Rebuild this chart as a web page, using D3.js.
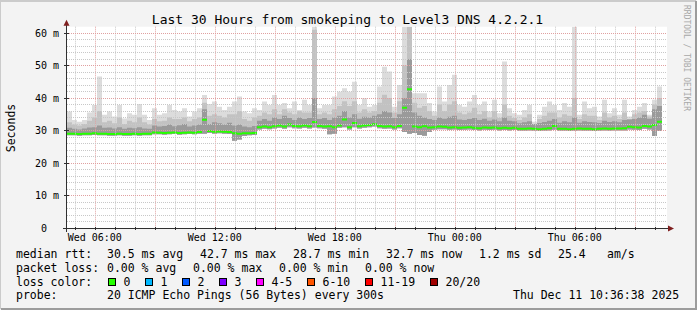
<!DOCTYPE html>
<html>
<head>
<meta charset="utf-8">
<script src="https://cdn.jsdelivr.net/npm/d3@7"></script>
<style>
  body { margin: 0; background: #f3f3f3; }
  svg { display: block; }
  text { font-family: "DejaVu Sans Mono", monospace; fill: #000; }
</style>
</head>
<body>
<svg id="chart" width="697" height="310"></svg>
<script>
// --- data (15 minute steps) ---
const endTime = new Date(2025, 11, 11, 10, 36, 38)
const spanHours = 30
const stepMinutes = 15

const medianRtt = [
  29.0, 29.0, 28.9, 29.0, 29.0, 29.1, 29.0, 29.0, 28.9, 28.9,
  29.0, 28.9, 28.9, 29.0, 28.9, 29.0, 29.0, 29.4, 29.3, 29.2,
  29.3, 29.4, 29.2, 29.3, 29.4, 29.3, 29.5, 33.3, 29.8, 29.6,
  29.7, 29.6, 29.5, 29.1, 29.0, 29.1, 29.1, 29.2, 31.0, 31.2,
  31.0, 31.3, 31.5, 31.2, 31.8, 31.4, 31.3, 31.5, 31.3, 32.6,
  31.4, 31.2, 31.3, 31.0, 31.5, 33.4, 31.0, 32.3, 31.3, 31.5,
  31.7, 31.9, 31.4, 31.2, 31.3, 31.0, 31.4, 37.0, 42.7, 31.2,
  31.0, 31.3, 30.9, 31.0, 31.2, 31.1, 30.9, 31.0, 30.8, 30.9,
  31.0, 30.8, 30.7, 30.9, 30.8, 30.9, 30.7, 30.8, 30.7, 30.8,
  30.5, 30.5, 30.6, 30.5, 30.4, 30.5, 30.7, 31.4, 30.5, 30.5,
  30.4, 30.5, 30.6, 30.5, 30.5, 30.4, 30.5, 30.6, 30.5, 30.6,
  30.6, 30.7, 31.1, 31.0, 30.9, 31.4, 31.2, 31.7, 32.7
]

const pingMin = [
  28.5, 28.5, 28.4, 28.5, 28.5, 28.6, 28.5, 28.5, 28.4, 28.4,
  28.5, 28.4, 28.4, 28.5, 28.4, 28.5, 28.5, 28.8, 28.8, 28.7,
  28.8, 28.9, 28.7, 28.8, 28.9, 28.8, 29.0, 29.0, 29.2, 29.0,
  29.1, 29.0, 28.9, 26.8, 27.2, 28.3, 28.5, 28.6, 30.3, 30.5,
  30.4, 30.6, 30.8, 30.5, 31.0, 30.7, 30.6, 30.8, 30.6, 30.9,
  30.7, 30.5, 28.8, 29.0, 30.8, 31.0, 30.3, 31.0, 30.6, 30.8,
  31.0, 31.2, 30.7, 30.5, 30.6, 30.3, 30.7, 29.5, 29.0, 29.2,
  28.6, 28.4, 29.5, 30.2, 30.4, 30.4, 30.2, 30.3, 30.1, 30.2,
  30.3, 30.1, 30.0, 30.2, 30.1, 30.2, 30.0, 30.1, 30.0, 30.1,
  29.9, 29.9, 30.0, 29.9, 29.8, 29.9, 30.0, 30.2, 29.9, 29.9,
  29.8, 29.9, 30.0, 29.9, 29.9, 29.8, 29.9, 30.0, 29.9, 30.0,
  30.0, 30.0, 30.3, 30.2, 30.1, 30.5, 30.3, 28.3, 29.8
]

const pingP75 = [
  30.8, 30.5, 30.3, 30.6, 30.9, 31.0, 31.5, 30.8, 30.9, 30.6,
  31.0, 30.5, 30.8, 30.7, 31.0, 30.6, 30.5, 31.5, 31.2, 31.4,
  31.8, 31.3, 31.6, 32.0, 31.2, 31.5, 31.8, 36.5, 32.0, 32.5,
  32.2, 31.8, 32.4, 31.5, 31.8, 31.2, 31.0, 31.4, 33.0, 33.5,
  33.0, 34.0, 33.5, 34.5, 33.8, 33.2, 34.0, 33.5, 33.8, 40.0,
  33.5, 33.8, 33.2, 34.0, 34.5, 36.0, 34.0, 35.0, 33.6, 34.2,
  34.0, 34.5, 35.0, 36.0, 35.5, 33.8, 35.0, 40.0, 52.0, 35.5,
  34.5, 34.0, 33.5, 33.2, 34.0, 33.6, 34.2, 34.5, 33.4, 33.2,
  33.5, 33.8, 33.2, 33.6, 33.0, 33.4, 32.8, 34.0, 33.0, 32.8,
  32.2, 32.5, 32.8, 32.0, 32.3, 32.6, 33.0, 33.5, 32.4, 32.8,
  32.5, 34.0, 32.4, 32.8, 32.6, 32.5, 32.3, 33.0, 32.6, 32.8,
  32.5, 33.2, 33.4, 33.5, 34.0, 34.8, 33.6, 36.5, 37.5
]

const pingP90 = [
  32.5, 31.8, 31.5, 32.0, 33.0, 34.0, 36.0, 32.5, 33.0, 32.2,
  34.0, 32.0, 33.0, 32.5, 34.0, 32.5, 31.8, 33.5, 32.8, 33.0,
  34.0, 33.5, 33.5, 34.0, 32.8, 33.5, 34.0, 38.5, 34.5, 35.0,
  34.5, 34.0, 35.0, 35.0, 36.0, 33.5, 33.0, 34.0, 34.5, 35.5,
  35.0, 36.5, 35.0, 36.5, 35.5, 35.0, 36.0, 35.5, 35.5, 61.0,
  35.0, 35.5, 35.0, 36.5, 37.5, 39.0, 37.5, 39.0, 35.5, 36.5,
  35.5, 36.0, 38.5, 41.0, 40.0, 35.5, 39.0, 50.0, 61.9, 38.5,
  37.0, 37.5, 36.0, 34.5, 38.0, 36.0, 38.0, 39.0, 35.5, 35.0,
  35.5, 37.0, 35.0, 36.0, 34.0, 36.0, 33.8, 38.0, 34.5, 33.8,
  33.2, 34.0, 35.0, 32.0, 33.5, 34.5, 35.5, 35.5, 34.0, 35.0,
  34.5, 40.0, 33.5, 35.0, 34.5, 34.5, 33.2, 35.5, 34.0, 34.5,
  33.5, 35.5, 33.5, 35.0, 35.5, 36.0, 34.3, 38.0, 40.0
]

const pingMax = [
  35.8, 33.2, 32.7, 33.2, 35.5, 37.8, 46.6, 34.8, 35.8, 34.3,
  37.8, 33.7, 35.3, 34.8, 38.1, 34.8, 33.2, 36.8, 34.8, 35.3,
  37.8, 36.3, 35.8, 36.8, 34.3, 35.8, 36.8, 40.9, 38.1, 38.9,
  37.3, 36.3, 37.3, 38.9, 40.4, 35.8, 35.3, 36.8, 36.3, 38.9,
  37.8, 40.9, 37.8, 38.4, 36.8, 38.9, 36.3, 39.4, 37.8, 61.9,
  36.8, 37.8, 37.8, 40.4, 41.9, 43.0, 41.9, 45.0, 37.8, 39.9,
  37.3, 37.8, 43.5, 49.6, 48.1, 37.3, 44.0, 61.9, 61.9, 41.4,
  41.4, 41.4, 38.4, 35.8, 43.5, 38.9, 44.0, 47.1, 37.8, 37.3,
  38.9, 40.9, 37.8, 38.9, 35.8, 39.4, 35.3, 51.2, 36.8, 35.3,
  34.8, 36.3, 37.8, 32.7, 34.8, 37.3, 38.9, 37.8, 36.3, 38.4,
  37.3, 61.9, 34.8, 38.9, 36.8, 37.3, 34.3, 39.4, 35.3, 36.8,
  34.8, 39.4, 34.3, 36.3, 37.3, 38.4, 34.8, 39.4, 43.5
]

const yTicks = [0, 10, 20, 30, 40, 50, 60]
const yUnit = 'm'
const titleText = 'Last 30 Hours from smokeping to Level3 DNS 4.2.2.1'
const yAxisTitle = 'Seconds'
const watermark = 'RRDTOOL / TOBI OETIKER'

const rttStats = ['30.5 ms avg', '42.7 ms max', '28.7 ms min', '32.7 ms now', '1.2 ms sd', '25.4', 'am/s']
const lossStats = ['0.00 % avg', '0.00 % max', '0.00 % min', '0.00 % now']
const lossLabels = ['0', '1', '2', '3', '4-5', '6-10', '11-19', '20/20']
const lossColors = ['#26ff00', '#00b8ff', '#0059ff', '#7e00ff', '#ff00ff', '#ff5500', '#ff0000', '#a00000']
const probeText = '20 ICMP Echo Pings (56 Bytes) every 300s'
const stampText = 'Thu Dec 11 10:36:38 2025'

// --- layout ---
const W = 697, H = 310
const plot = { left: 67, right: 667, top: 26.7, bottom: 228 }
const svg = d3.select('#chart')

const startTime = d3.timeHour.offset(endTime, -spanHours)
const x = d3.scaleTime().domain([startTime, endTime]).range([plot.left, plot.right])
const y = d3.scaleLinear().domain([0, 61.9]).range([plot.bottom, plot.top])

let rows = medianRtt.map((m, i) => ({
  t: d3.timeMinute.offset(startTime, i * stepMinutes),
  med: m, min: pingMin[i], p75: pingP75[i], p90: pingP90[i], max: pingMax[i]
}))
// repeat last sample so the final step is drawn to its end
let last = rows[rows.length - 1]
rows.push(Object.assign({}, last, { t: d3.timeMinute.offset(last.t, stepMinutes) }))

// frame
svg.append('rect').attr('width', W).attr('height', H).attr('fill', '#f3f3f3')
svg.append('path').attr('d', `M0,${H - 1} V1 H${W - 1}`).attr('stroke', '#cbcbcb').attr('stroke-width', 2).attr('fill', 'none')
svg.append('path').attr('d', `M1,${H - 1} H${W - 1} V1`).attr('stroke', '#9c9c9c').attr('stroke-width', 2).attr('fill', 'none')

svg.append('rect')
  .attr('x', plot.left).attr('y', plot.top)
  .attr('width', plot.right - plot.left).attr('height', plot.bottom - plot.top)
  .attr('fill', '#fff')

svg.append('clipPath').attr('id', 'clip')
  .append('rect')
  .attr('x', plot.left).attr('y', plot.top)
  .attr('width', plot.right - plot.left).attr('height', plot.bottom - plot.top)

let g = svg.append('g').attr('clip-path', 'url(#clip)')

// smoke bands, outer to inner
let band = (lo, hi) => d3.area()
  .curve(d3.curveStepAfter)
  .x(d => x(d.t))
  .y0(d => y(d[lo]))
  .y1(d => y(d[hi]))

g.append('path').datum(rows).attr('d', band('min', 'max')).attr('fill', '#dcdcdc')
g.append('path').datum(rows).attr('d', band('min', 'p90')).attr('fill', '#c2c2c2')
g.append('path').datum(rows).attr('d', band('min', 'p75')).attr('fill', '#9a9a9a')

// median drawn as a thin green band
let medBand = d3.area()
  .curve(d3.curveStepAfter)
  .x(d => x(d.t))
  .y0(d => y(d.med) + 1)
  .y1(d => y(d.med) - 1)
g.append('path').datum(rows).attr('d', medBand).attr('fill', lossColors[0])

// grid
let grid = svg.append('g').attr('fill', 'none').attr('stroke-dasharray', '1,1')
let hourTicks = x.ticks(d3.timeHour.every(1))
let majorHours = x.ticks(d3.timeHour.every(3)).map(d => +d)
hourTicks.forEach(t => {
  let major = majorHours.includes(+t)
  grid.append('line')
    .attr('x1', Math.round(x(t)) + 0.5).attr('x2', Math.round(x(t)) + 0.5)
    .attr('y1', plot.top).attr('y2', plot.bottom)
    .attr('stroke', major ? '#e0a0a0' : '#c8c8c8')
})
d3.range(2, 62, 2).forEach(v => {
  let major = v % 10 === 0
  grid.append('line')
    .attr('x1', plot.left).attr('x2', plot.right)
    .attr('y1', Math.round(y(v)) + 0.5).attr('y2', Math.round(y(v)) + 0.5)
    .attr('stroke', major ? '#e0a0a0' : '#c8c8c8')
})

// axes
let axis = svg.append('g').attr('stroke', '#303030').attr('fill', 'none')
axis.append('line').attr('x1', plot.left - 0.5).attr('x2', plot.left - 0.5)
  .attr('y1', plot.bottom + 4).attr('y2', plot.top - 5)
axis.append('line').attr('x1', plot.left - 4).attr('x2', plot.right + 4)
  .attr('y1', plot.bottom + 0.5).attr('y2', plot.bottom + 0.5)
yTicks.forEach(v => {
  axis.append('line').attr('x1', plot.left - 3).attr('x2', plot.left + 2)
    .attr('y1', Math.round(y(v)) + 0.5).attr('y2', Math.round(y(v)) + 0.5)
})
hourTicks.forEach(t => {
  axis.append('line').attr('x1', Math.round(x(t)) + 0.5).attr('x2', Math.round(x(t)) + 0.5)
    .attr('y1', plot.bottom - 1).attr('y2', plot.bottom + 2)
})
svg.append('path').attr('fill', '#7f1f1f')
  .attr('d', `M${plot.left - 3.5},${plot.top - 1} L${plot.left - 0.5},${plot.top - 7} L${plot.left + 2.5},${plot.top - 1}Z`)
svg.append('path').attr('fill', '#7f1f1f')
  .attr('d', `M${plot.right + 1},${plot.bottom - 2.5} L${plot.right + 7},${plot.bottom + 0.5} L${plot.right + 1},${plot.bottom + 3.5}Z`)

// tick labels
let yl = svg.append('g').style('font-size', '10px')
yTicks.forEach(v => {
  yl.append('text').attr('x', 47).attr('y', y(v) + 3.7).attr('text-anchor', 'end').text(v)
  if (v !== 0) yl.append('text').attr('x', 53).attr('y', y(v) + 3.7).text(yUnit)
})
let fmt = d3.timeFormat('%a %H:%M')
x.ticks(d3.timeHour.every(6)).forEach(t => {
  yl.append('text').attr('x', x(t)).attr('y', 241).attr('text-anchor', 'middle').text(fmt(t))
})

// titles
svg.append('text').attr('x', 347.5).attr('y', 24).attr('text-anchor', 'middle')
  .style('font-size', '13px').text(titleText)
svg.append('text').attr('transform', 'translate(14.5,128) rotate(-90)').attr('text-anchor', 'middle')
  .style('font-size', '11.5px').text(yAxisTitle)
svg.append('text').attr('transform', 'translate(684,5) rotate(90)')
  .style('font-size', '8px').style('fill', '#a8a8a8').text(watermark)

// legend
let leg = svg.append('g').style('font-size', '11.5px')
let rows4 = [258, 271.7, 285.5, 299.3]
leg.append('text').attr('x', 16).attr('y', rows4[0]).text('median rtt:')
let rttX = [107, 200, 293, 386, 479, 558, 607]
rttStats.forEach((s, i) => leg.append('text').attr('x', rttX[i]).attr('y', rows4[0]).text(s))

leg.append('text').attr('x', 16).attr('y', rows4[1]).text('packet loss:')
let lossX = [107, 193, 279, 365]
lossStats.forEach((s, i) => leg.append('text').attr('x', lossX[i]).attr('y', rows4[1]).text(s))

leg.append('text').attr('x', 16).attr('y', rows4[2]).text('loss color:')
let boxX = [108.5, 145.5, 182.5, 219.5, 256.5, 307.5, 365.5, 430.5]
lossLabels.forEach((s, i) => {
  leg.append('rect').attr('x', boxX[i]).attr('y', 278.5).attr('width', 7).attr('height', 7)
    .attr('fill', lossColors[i]).attr('stroke', '#000')
  leg.append('text').attr('x', boxX[i] + 15).attr('y', rows4[2]).text(s)
})

leg.append('text').attr('x', 16).attr('y', rows4[3]).text('probe:')
leg.append('text').attr('x', 107).attr('y', rows4[3]).text(probeText)
leg.append('text').attr('x', 513).attr('y', rows4[3]).text(stampText)
</script>
</body>
</html>
